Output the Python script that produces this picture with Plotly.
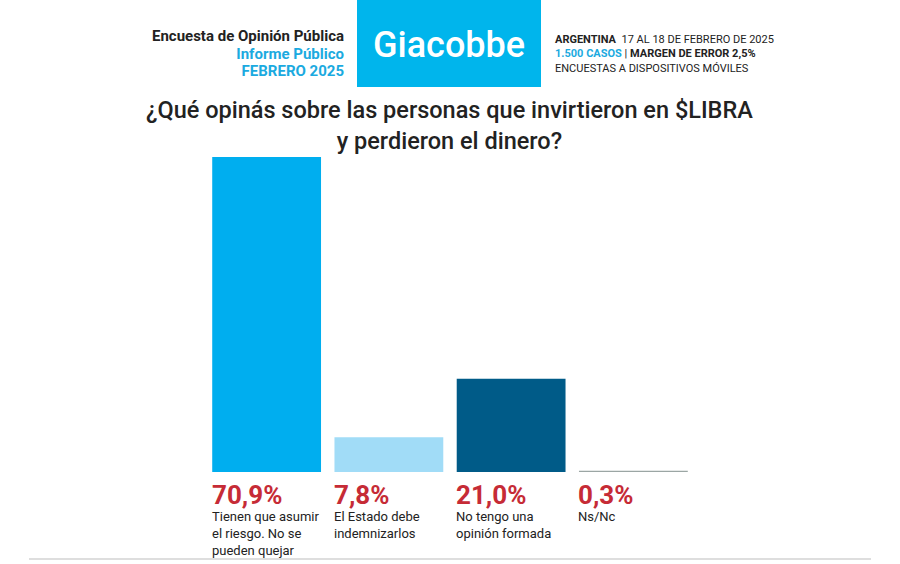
import plotly.graph_objects as go

# datos de la encuesta
categorias = ['asumir', 'estado', 'sin_opinion', 'nsnc']
porcentajes = [70.9, 7.8, 21.0, 0.3]
etiquetas_pct = ['70,9%', '7,8%', '21,0%', '0,3%']
descripciones = [
    'Tienen que asumir<br>el riesgo. No se<br>pueden quejar',
    'El Estado debe<br>indemnizarlos',
    'No tengo una<br>opinión formada',
    'Ns/Nc',
]
colores = ['#00AEEF', '#A1DCF7', '#005B88', '#9BA6A4']

W, H = 900, 564
FONT = 'Roboto, Liberation Sans, sans-serif'
ROJO = '#C62B36'
CIAN = '#1BAAE0'
OSCURO = '#222222'


def py(pix):
    """pixel vertical -> coordenada paper"""
    return 1 - pix / H


def px(pix):
    return pix / W


fig = go.Figure()
fig.add_trace(go.Bar(
    x=categorias,
    y=porcentajes,
    marker_color=colores,
    marker_line_width=0,
    hoverinfo='skip',
))

anotaciones = []
# porcentaje + descripcion en una sola anotacion (interlineado segun 13px)
for cat, pct, desc in zip(categorias, etiquetas_pct, descripciones):
    texto = (f'<span style="font-size:26px;color:{ROJO}"><b>{pct}</b></span>'
             f'<br>{desc}')
    anotaciones.append(dict(
        x=cat, xref='x', y=py(478), yref='paper',
        text=texto, showarrow=False, align='left',
        xanchor='left', yanchor='top', xshift=-57,
        font=dict(family=FONT, size=13, color=OSCURO),
    ))

# encabezado izquierdo
izq = [
    ('Encuesta de Opinión Pública', OSCURO),
    ('Informe Público', CIAN),
    ('FEBRERO 2025', CIAN),
]
texto_izq = '<br>'.join(
    f'<span style="font-size:15px;color:{c}"><b>{t}</b></span>' for t, c in izq)
anotaciones.append(dict(
    x=px(346), xref='paper', y=py(54), yref='paper', text=texto_izq,
    showarrow=False, xanchor='right', yanchor='middle', align='right',
    font=dict(family=FONT, size=13.5, color=OSCURO),
))

# encabezado derecho
texto_der = '<br>'.join([
    '<b>ARGENTINA</b>  17 AL 18 DE FEBRERO DE 2025',
    f'<b><span style="color:{CIAN}">1.500 CASOS</span></b> | <b>MARGEN DE ERROR 2,5%</b>',
    'ENCUESTAS A DISPOSITIVOS MÓVILES',
])
anotaciones.append(dict(
    x=px(553), xref='paper', y=py(54), yref='paper', text=texto_der,
    showarrow=False, xanchor='left', yanchor='middle', align='left',
    font=dict(family=FONT, size=11, color=OSCURO),
))

# logo
anotaciones.append(dict(
    x=px(449), xref='paper', y=py(45), yref='paper', text='Giacobbe',
    showarrow=False, xanchor='center', yanchor='middle',
    font=dict(family=FONT, size=36, color='white', weight=500),
))

# pregunta
anotaciones.append(dict(
    x=px(449), xref='paper', y=py(126), yref='paper',
    text='¿Qué opinás sobre las personas que invirtieron en $LIBRA<br>y perdieron el dinero?',
    showarrow=False, xanchor='center', yanchor='middle',
    font=dict(family=FONT, size=23.5, color=OSCURO, weight=500),
))

fig.update_layout(
    width=W, height=H,
    margin=dict(l=0, r=0, t=0, b=0),
    paper_bgcolor='white', plot_bgcolor='white',
    showlegend=False,
    bargap=0.11,
    annotations=anotaciones,
    shapes=[
        dict(type='rect', xref='paper', yref='paper',
             x0=px(357), x1=px(541), y0=py(87), y1=py(0),
             fillcolor='#00B5EC', line_width=0, layer='below'),
        dict(type='line', xref='paper', yref='paper',
             x0=px(29), x1=px(871), y0=py(559), y1=py(559),
             line=dict(color='#D3D3D3', width=1.5)),
    ],
    xaxis=dict(domain=[px(205.5), px(694.5)], showticklabels=False,
               showgrid=False, zeroline=False, showline=False),
    yaxis=dict(domain=[py(472), py(138.8)], range=[0, 75],
               showticklabels=False, showgrid=False, zeroline=False,
               showline=False),
)

# quitar el margen por defecto del body
fig.write_html('out.html', config={'displayModeBar': False},
               post_script="document.body.style.margin='0';")
